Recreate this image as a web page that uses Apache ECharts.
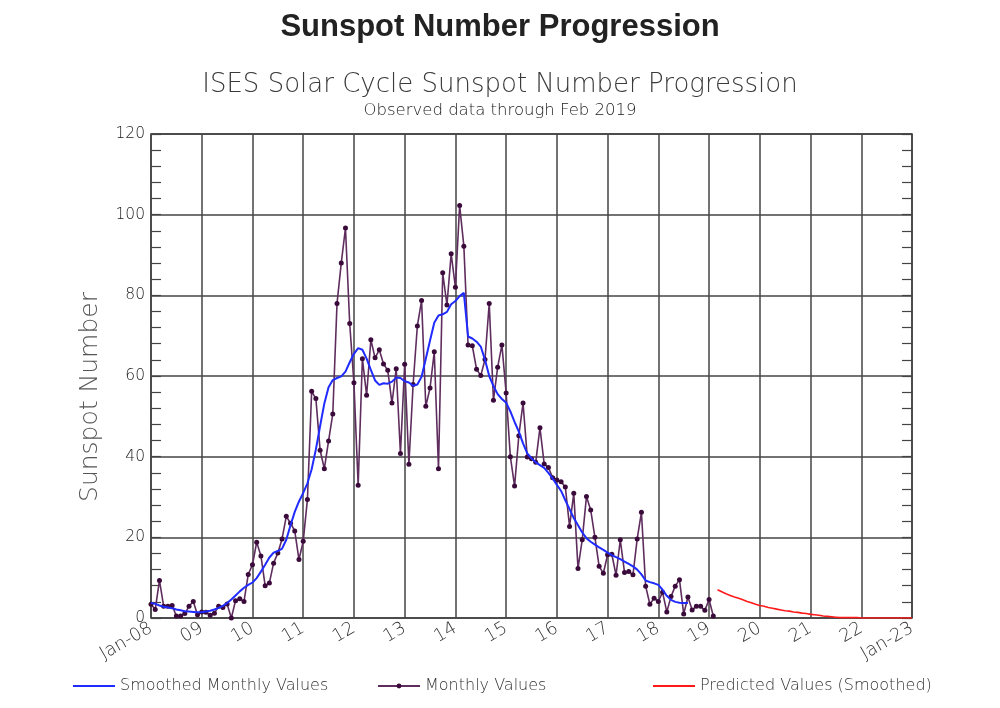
<!DOCTYPE html>
<html><head><meta charset="utf-8">
<script src="https://cdn.jsdelivr.net/npm/echarts@6/dist/echarts.min.js"></script>
<style>html,body{margin:0;padding:0;background:#fff}#c{width:1000px;height:708px}</style>
</head><body><div id="c"></div>
<script>
// x axis: months since Jan 2008
const tickLabels = ['Jan-08','09','10','11','12','13','14','15','16','17','18','19','20','21','22','Jan-23'];
const monthlyStart = 0;   // Jan 2008
const monthlyValues = [
  3.4, 2.1, 9.3, 2.9, 2.9, 3.1, 0.5, 0.5, 1.1, 2.9, 4.1, 0.8,
  1.5, 1.4, 0.7, 1.2, 2.9, 2.6, 3.5, 0.0, 4.3, 4.8, 4.1, 10.8,
  13.2, 18.8, 15.4, 8.0, 8.7, 13.6, 16.1, 19.6, 25.2, 23.5, 21.6, 14.5,
  19.0, 29.4, 56.2, 54.4, 41.6, 37.0, 43.9, 50.6, 78.0, 88.0, 96.7, 73.0,
  58.3, 32.9, 64.3, 55.2, 69.0, 64.5, 66.5, 63.0, 61.4, 53.3, 61.8, 40.8,
  62.9, 38.1, 57.9, 72.4, 78.7, 52.5, 57.0, 66.0, 37.0, 85.6, 77.6, 90.3,
  82.0, 102.3, 92.2, 67.7, 67.5, 61.7, 60.1, 64.1, 78.0, 54.0, 62.2, 67.7,
  55.8, 40.0, 32.7, 45.2, 53.3, 39.9, 39.5, 38.6, 47.2, 38.2, 37.3, 34.8,
  34.2, 33.8, 32.5, 22.7, 30.9, 12.3, 19.4, 30.1, 26.8, 20.0, 12.8, 11.1,
  15.7, 15.8, 10.6, 19.4, 11.3, 11.5, 10.7, 19.6, 26.2, 7.9, 3.4, 4.9,
  4.1, 6.4, 1.5, 5.3, 7.9, 9.5, 1.0, 5.2, 2.0, 2.9, 2.9, 1.9,
  4.6, 0.5
];
const smoothedStart = 0;  // Jan 2008
const smoothedValues = [
  3.8, 3.5, 3.1, 2.8, 2.6, 2.4, 2.1, 1.9, 1.7, 1.6, 1.5, 1.4,
  1.4, 1.6, 1.8, 2.1, 2.5, 3.0, 3.7, 4.6, 5.6, 6.6, 7.5, 8.2,
  8.8, 9.9, 11.5, 13.2, 15.0, 16.2, 16.6, 17.2, 19.4, 23.0, 26.3, 28.9,
  31.0, 33.4, 36.9, 41.8, 47.6, 53.2, 57.2, 59.0, 59.5, 59.9, 61.1, 63.4,
  65.5, 66.9, 66.5, 64.3, 61.5, 58.9, 57.8, 58.2, 58.1, 58.6, 59.6, 59.5,
  58.7, 58.4, 57.6, 57.9, 59.8, 64.3, 68.8, 73.2, 75.0, 75.3, 75.9, 77.8,
  78.6, 79.8, 80.6, 69.8, 69.3, 68.5, 67.3, 64.0, 60.0, 57.5, 55.5, 54.3,
  53.4, 51.2, 48.6, 46.2, 43.3, 40.8, 39.6, 38.6, 37.9, 37.2, 36.0, 34.6,
  33.0, 31.5, 29.2, 27.0, 24.8, 23.0, 21.2, 19.8, 18.9, 18.2, 17.5, 16.9,
  16.2, 15.6, 15.1, 14.6, 14.0, 13.4, 12.8, 12.0, 10.8, 9.3, 8.9, 8.6,
  8.2, 7.0, 5.5, 4.5, 4.0, 3.8, 3.7, 3.7
];
const predictedStart = 134; // Mar 2019
const predictedValues = [
  7.0, 6.5, 6.0, 5.6, 5.2, 4.9, 4.5, 4.1, 3.8, 3.4,
  3.1, 2.9, 2.6, 2.4, 2.2, 2.0, 1.8, 1.7, 1.5, 1.4,
  1.2, 1.1, 0.9, 0.8, 0.7, 0.5, 0.4, 0.3, 0.2, 0.1,
  0.1, 0.1, 0.1, 0.1, 0.0, 0.0, 0.0, 0.0, 0.0, 0.0,
  0.0, 0.0, 0.0, 0.0, 0.0, 0.0, 0.0
];

const toPairs = (start, arr) => arr.map((v, i) => [start + i, v]);
const FONT = 'DejaVu Sans';
const legendText = { fontFamily: FONT, fontSize: 16, fontWeight: 200, color: '#333' };
const chart = echarts.init(document.getElementById('c'));
const yAxisBase = {
  type: 'value', min: 0, max: 120, interval: 20,
  axisLine: { show: false },
  axisTick: { show: true, inside: true, length: 10, lineStyle: { color: '#444', width: 1.2 } },
  minorTick: { show: true, splitNumber: 5, length: 10, lineStyle: { color: '#444', width: 1.2 } }
};
chart.setOption({
  animation: false,
  backgroundColor: '#fff',
  title: [
    { text: 'Sunspot Number Progression', left: 'center', top: 7,
      textStyle: { fontFamily: 'Liberation Sans', fontSize: 31, fontWeight: 'bold', color: '#222' } },
    { text: 'ISES Solar Cycle Sunspot Number Progression', left: 'center', top: 67,
      textStyle: { fontFamily: FONT, fontSize: 26, fontWeight: 200, color: '#3a3a3a' } },
    { text: 'Observed data through Feb 2019', left: 'center', top: 97,
      textStyle: { fontFamily: FONT, fontSize: 16.5, fontWeight: 200, color: '#222' } }
  ],
  graphic: [
    { type: 'text', x: 90, y: 397, rotation: Math.PI / 2,
      style: { text: 'Sunspot Number', fontFamily: FONT, fontSize: 25, fontWeight: 200,
               fill: '#555', align: 'center', verticalAlign: 'middle' } }
  ],
  grid: { left: 151, right: 88, top: 134, bottom: 90, show: true, borderColor: '#333', borderWidth: 1.5 },
  legend: [
    { data: [{ name: 'Smoothed Monthly Values', icon: 'rect' }], left: 68, top: 673,
      itemWidth: 42, itemHeight: 2, textStyle: legendText },
    { data: ['Monthly Values'], left: 372, top: 673, itemWidth: 42, itemHeight: 6,
      textStyle: legendText },
    { data: [{ name: 'Predicted Values (Smoothed)', icon: 'rect' }], left: 648, top: 673,
      itemWidth: 42, itemHeight: 2, textStyle: legendText }
  ],
  xAxis: {
    type: 'value', min: 0, max: 180, interval: 12,
    axisLine: { show: false }, axisTick: { show: false },
    splitLine: { show: true, lineStyle: { color: '#444', width: 1.5 } },
    axisLabel: {
      rotate: 30, margin: 9, showMinLabel: true, showMaxLabel: true,
      fontFamily: FONT, fontSize: 18, fontWeight: 200, color: '#333',
      formatter: v => tickLabels[Math.round(v / 12)]
    }
  },
  yAxis: [
    Object.assign({}, yAxisBase, {
      position: 'left',
      splitLine: { show: true, lineStyle: { color: '#444', width: 1.5 } },
      axisLabel: { margin: 6, fontFamily: FONT, fontSize: 15.5, fontWeight: 200, color: '#222' }
    }),
    Object.assign({}, yAxisBase, {
      position: 'right',
      splitLine: { show: false },
      axisLabel: { show: false }
    })
  ],
  series: [
    { name: 'Monthly Values', type: 'line', data: toPairs(monthlyStart, monthlyValues),
      symbol: 'circle', symbolSize: 5, showSymbol: true,
      lineStyle: { color: '#5e2d5e', width: 1.6 }, itemStyle: { color: '#3a0a3a' }, z: 3 },
    { name: 'Smoothed Monthly Values', type: 'line', data: toPairs(smoothedStart, smoothedValues),
      symbol: 'none', lineStyle: { color: '#1f2bff', width: 2 }, itemStyle: { color: '#1f2bff' }, z: 4 },
    { name: 'Predicted Values (Smoothed)', type: 'line', data: toPairs(predictedStart, predictedValues),
      symbol: 'none', lineStyle: { color: '#ff1a1a', width: 1.6 }, itemStyle: { color: '#ff1a1a' }, z: 4 }
  ]
});
</script>
</body></html>
